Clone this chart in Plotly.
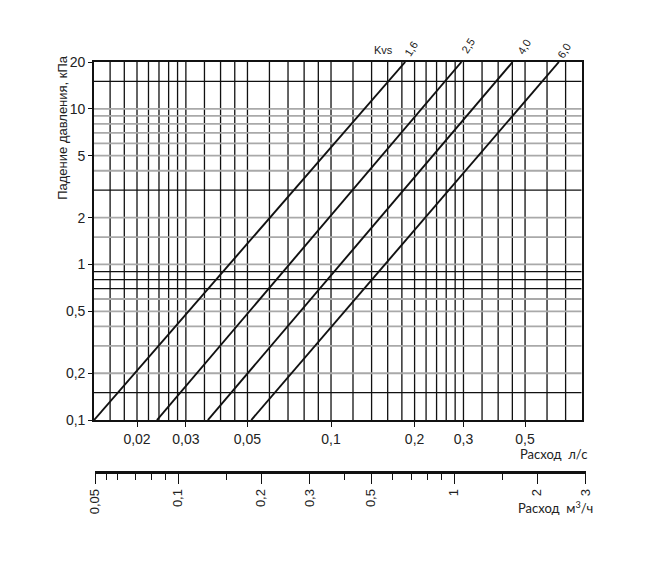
import math
import plotly.graph_objects as go

# ---------------- data ----------------
flow_range = [0.014, 0.8]          # л/с
dp_range = [0.1, 20]               # кПа

flow_ticks = [0.02, 0.03, 0.05, 0.1, 0.2, 0.3, 0.5]
flow_labels = ["0,02", "0,03", "0,05", "0,1", "0,2", "0,3", "0,5"]

dp_ticks = [0.1, 0.2, 0.5, 1, 2, 5, 10, 20]
dp_labels = ["0,1", "0,2", "0,5", "1", "2", "5", "10", "20"]

flow_grid = [0.016, 0.018, 0.02, 0.022, 0.024, 0.026, 0.028, 0.03, 0.035, 0.04, 0.045,
             0.05, 0.06, 0.07, 0.08, 0.09, 0.1, 0.12, 0.14, 0.16, 0.18, 0.2, 0.22, 0.24,
             0.26, 0.28, 0.3, 0.35, 0.4, 0.45, 0.5, 0.6, 0.7]
dp_grid_black = [15, 3, 0.9, 0.8, 0.7, 0.15]
dp_grid_gray = [10, 9, 8, 7, 6, 5, 4, 2, 1.5, 1, 0.6, 0.5, 0.4, 0.3, 0.2]

kvs_names = ["1,6", "2,5", "4,0", "6,0"]
kvs_flow_low = [0.014, 0.0236, 0.036, 0.0516]    # flow at 0.1 kPa
kvs_flow_high = [0.185, 0.295, 0.451, 0.662]     # flow at 20 kPa
kvs_dp_low = 0.1
kvs_dp_high = 20

m3h_range = [0.05, 3]
m3h_major = [0.05, 0.1, 0.2, 0.3, 0.5, 1, 2, 3]
m3h_labels = ["0,05", "0,1", "0,2", "0,3", "0,5", "1", "2", "3"]
m3h_minor = [0.055, 0.06, 0.07, 0.08, 0.09, 0.15, 0.4, 0.6, 0.7, 0.8, 0.9, 1.5]

# ---------------- layout geometry (pixels) ----------------
W, H = 671, 564
ML, MR, MT, MB = 93.5, 80, 61.7, 24
PW = W - ML - MR
PH = H - MT - MB


def px(x):
    return (x - ML) / PW


def py(y):
    return (H - MB - y) / PH


main_right = 581.7
main_bottom = 420
ax2_left, ax2_right = 94.7, 585.7
ax2_line_y = 471

fig = go.Figure()

# vertical grid
gx, gy = [], []
for v in flow_grid:
    gx += [v, v, None]
    gy += [dp_range[0], dp_range[1], None]
fig.add_trace(go.Scatter(x=gx, y=gy, mode="lines", line=dict(color="#111", width=1.3),
                         hoverinfo="skip", showlegend=False))

# horizontal gray grid
hx, hy = [], []
for v in dp_grid_gray:
    hx += [flow_range[0], flow_range[1], None]
    hy += [v, v, None]
fig.add_trace(go.Scatter(x=hx, y=hy, mode="lines", line=dict(color="#a9a9a9", width=1.8),
                         hoverinfo="skip", showlegend=False))

# horizontal black grid
bx, by = [], []
for v in dp_grid_black:
    bx += [flow_range[0], flow_range[1], None]
    by += [v, v, None]
fig.add_trace(go.Scatter(x=bx, y=by, mode="lines", line=dict(color="#111", width=1.3),
                         hoverinfo="skip", showlegend=False))

# Kvs lines
for name, q0, q1 in zip(kvs_names, kvs_flow_low, kvs_flow_high):
    fig.add_trace(go.Scatter(x=[q0, q1], y=[kvs_dp_low, kvs_dp_high], mode="lines",
                             line=dict(color="#111", width=1.9), name=name,
                             showlegend=False))

# dummy trace for second (m3/h) axis, on its own subplot
fig.add_trace(go.Scatter(x=m3h_range, y=[None, None], xaxis="x2", yaxis="y2",
                         mode="lines", showlegend=False, hoverinfo="skip"))

FONT = "Arial, Liberation Sans, sans-serif"
tick_font = dict(family=FONT, size=14, color="#222")

y2_bottom = py(ax2_line_y)

fig.update_layout(
    width=W, height=H,
    margin=dict(l=ML, r=MR, t=MT, b=MB, pad=0),
    paper_bgcolor="white", plot_bgcolor="white",
    xaxis=dict(
        type="log", range=[math.log10(flow_range[0]), math.log10(flow_range[1])],
        domain=[0, px(main_right)], anchor="y",
        tickvals=flow_ticks, ticktext=flow_labels, tickfont=tick_font,
        ticks="outside", ticklen=5, tickcolor="#111", tickwidth=1.2,
        showgrid=False, zeroline=False,
        showline=True, mirror=True, linecolor="#111", linewidth=1.6,
    ),
    yaxis=dict(
        type="log", range=[math.log10(dp_range[0]), math.log10(dp_range[1])],
        domain=[py(main_bottom), 1], anchor="x",
        tickvals=dp_ticks, ticktext=dp_labels, tickfont=tick_font,
        ticks="outside", ticklen=4, tickcolor="#111", tickwidth=1.2,
        showgrid=False, zeroline=False,
        showline=True, mirror=True, linecolor="#111", linewidth=1.6,
    ),
    xaxis2=dict(
        type="log", range=[math.log10(m3h_range[0]), math.log10(m3h_range[1])],
        domain=[px(ax2_left), px(ax2_right)], anchor="y2",
        tickvals=m3h_major, ticktext=m3h_labels, tickangle=-90,
        tickfont=dict(family=FONT, size=13, color="#222"),
        ticks="outside", ticklen=10, tickcolor="#111", tickwidth=1.4,
        minor=dict(tickvals=m3h_minor, ticks="outside", ticklen=6, tickcolor="#111",
                   tickwidth=1.2, showgrid=False),
        showgrid=False, zeroline=False,
        showline=True, linecolor="#111", linewidth=2.6,
    ),
    yaxis2=dict(domain=[y2_bottom, y2_bottom + 0.01], anchor="x2", visible=False,
                range=[0, 1]),
    showlegend=False,
)


def note(text, x, y, size=13, angle=0, family=FONT):
    return dict(text=text, x=px(x), y=py(y), xref="paper", yref="paper",
                xanchor="center", yanchor="middle", showarrow=False, textangle=angle,
                font=dict(family=family, size=size, color="#222"))


ann = [
    note("Падение давления, кПа", 62, 127, 13, -90),
    note("Расход  л/с", 553, 454, 13, 0, "Lato, sans-serif"),
    note("Расход  м<sup>3</sup>/ч", 555, 507, 13, 0, "Lato, sans-serif"),
    note("Kvs", 383, 50, 11),
]
label_pos = [(411, 49), (468, 46), (524, 47), (564, 51)]
for name, (lx, ly) in zip(kvs_names, label_pos):
    ann.append(note(name, lx, ly, 11, -58))
fig.update_layout(annotations=ann)

fig.write_html("out.html")
